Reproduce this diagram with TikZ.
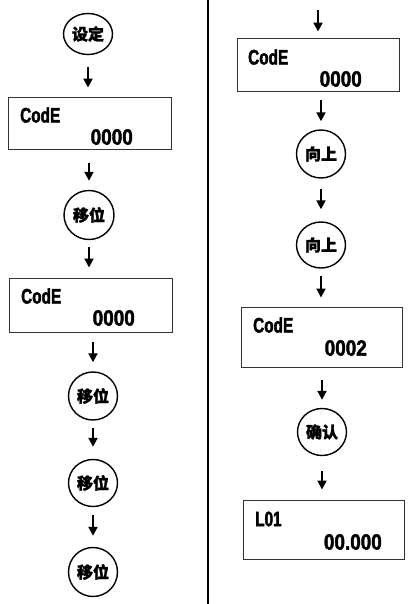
\documentclass[tikz,border=0pt]{standalone}
\usepackage{fontspec}
\usetikzlibrary{arrows.meta,shapes.geometric}
\newfontfamily\cjk[FakeBold=1.5]{Noto Sans CJK SC}
\newfontfamily\lcdA[FakeStretch=0.73,FakeBold=2]{Liberation Sans}
\newfontfamily\lcdB[FakeStretch=0.86,FakeBold=2]{Liberation Sans}
\begin{document}
\begin{tikzpicture}[x=1pt,y=-1pt,
  key/.style={ellipse, draw, line width=1.4pt, inner sep=0pt,
    minimum width=49pt, minimum height=47pt,
    font=\cjk\bfseries\fontsize{16}{16}\selectfont},
  lcdbox/.style={rectangle, draw=black!80, line width=0.9pt, inner sep=0pt},
  lbl/.style={inner sep=0pt, anchor=west, font=\lcdA\bfseries\fontsize{21}{21}\selectfont},
  num/.style={inner sep=0pt, anchor=east, font=\lcdB\bfseries\fontsize{22}{22}\selectfont},
  arr/.style={line width=2pt, -{Triangle[width=9pt,length=9pt]}}
]
\useasboundingbox[fill=white] (0,0) rectangle (410,604);
% divider
\draw[line width=2pt] (208,0) -- (208,604);

% left column
\node[key, minimum height=41pt] (E1) at (88,34) {设定};
\node[lcdbox, minimum width=163pt, minimum height=52pt] (B1) at (89.5,123) {};
\node[lbl] (B1a) at (20,115) {CodE};
\node[num] (B1b) at (133,137) {0000};
\node[key, minimum width=50pt, minimum height=49pt] (E2) at (89,215) {移位};
\node[lcdbox, minimum width=163pt, minimum height=54pt] (B2) at (90.5,305) {};
\node[lbl] (B2a) at (21,296) {CodE};
\node[num] (B2b) at (135,318) {0000};
\node[key, minimum height=48pt] (E3) at (93,396) {移位};
\node[key] (E4) at (93,483) {移位};
\node[key, minimum height=49pt] (E5) at (93,572) {移位};

\draw[arr, shorten <=11.5pt, shorten >=9pt] (E1.south) -- (E1.south |- B1.north);
\draw[arr, shorten <=14pt, shorten >=9pt] (E2.north |- B1.south) -- (E2.north);
\draw[arr, shorten <=7pt, shorten >=10pt] (E2.south) -- (E2.south |- B2.north);
\draw[arr, shorten <=10pt, shorten >=9pt] (E3.north |- B2.south) -- (E3.north);
\draw[arr, shorten <=7pt, shorten >=12pt] (E3.south) -- (E4.north);
\draw[arr, shorten <=8pt, shorten >=11pt] (E4.south) -- (E5.north);

% right column
\coordinate (T0) at (318,10);
\node[lcdbox, minimum width=162pt, minimum height=53pt] (B3) at (318,64.5) {};
\node[lbl] (B3a) at (248,57) {CodE};
\node[num] (B3b) at (362,79) {0000};
\node[key, minimum height=48pt] (E6) at (321,154) {向上};
\node[key, minimum height=46pt] (E7) at (321,245) {向上};
\node[lcdbox, minimum width=161pt, minimum height=60pt] (B4) at (321.5,337) {};
\node[lbl] (B4a) at (253,325) {CodE};
\node[num] (B4b) at (367,348) {0002};
\node[key] (E8) at (322,432) {确认};
\node[lcdbox, minimum width=161pt, minimum height=59pt] (B5) at (323.5,529.5) {};
\node[lbl] (B5a) at (255,519) {L01};
\node[num] (B5b) at (382,542) {00.000};

\draw[arr, shorten >=6pt] (T0) -- (T0 |- B3.north);
\draw[arr, shorten <=9pt, shorten >=8pt] (E6.north |- B3.south) -- (E6.north);
\draw[arr, shorten <=10pt, shorten >=12pt] (E6.south) -- (E7.north);
\draw[arr, shorten <=7pt, shorten >=9pt] (E7.south) -- (E7.south |- B4.north);
\draw[arr, shorten <=13pt, shorten >=8pt] (E8.north |- B4.south) -- (E8.north);
\draw[arr, shorten <=15pt, shorten >=10pt] (E8.south) -- (E8.south |- B5.north);
\end{tikzpicture}
\end{document}
